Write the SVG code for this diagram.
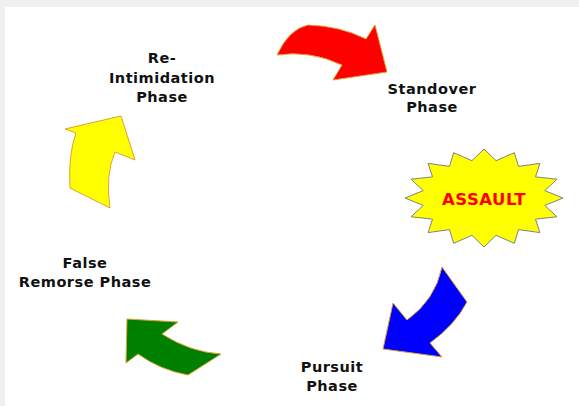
<svg xmlns="http://www.w3.org/2000/svg" width="579" height="406" viewBox="0 0 579 406">
<style>
.lbl{font-family:"DejaVu Sans",Verdana,sans-serif;font-weight:bold;font-size:14.5px;fill:#111;text-anchor:middle;letter-spacing:0.5px}
.arr{stroke:#e0a030;stroke-width:1;stroke-linejoin:round}
</style>
<rect x="0" y="0" width="579" height="406" fill="#ffffff"/>
<rect x="0" y="0" width="579" height="7" fill="#f0f0f0"/>
<rect x="0" y="7" width="5" height="399" fill="#f0f0f0"/>
<g id="connectors">
<path id="red-arrow" class="arr" fill="#ff0000" d="M277,55 Q289,29 308,25 Q340,26 366,39 L375,25 L387,72 L333,80 L342,65 Q310,50 277,55 Z"/>
<path id="blue-arrow" class="arr" fill="#0000ff" d="M442,267 L467,302 Q455,325 430,343 L442,357 L383,349 L393,303 L407,320 Q435,300 442,267 Z"/>
<path id="green-arrow" class="arr" fill="#008000" d="M127,319 L178,322 L162,334 Q190,352 221,354 L188,375 Q160,370 138,354 L126,363 Z"/>
<path id="yellow-arrow" class="arr" fill="#ffff00" d="M121,116 L135,160 L115,152 Q105,175 110,208 L70,188 Q68,155 76,133 L65,129 Z"/>
</g>
<g id="standover">
<text class="lbl" x="432" y="94">Standover</text>
<text class="lbl" x="432" y="112">Phase</text>
</g>
<g id="assault">
<polygon fill="#ffff00" stroke="#808080" stroke-width="1" points="563,198 544.8,205.4 557,216.8 535.5,219.1 539.9,232.6 518.5,229.6 514.3,243.3 496.1,235.3 484,247 471.9,235.3 453.7,243.3 449.5,229.6 428.1,232.6 432.5,219.1 411,216.8 423.2,205.4 405,198 423.2,190.6 411,179.2 432.5,176.9 428.1,163.4 449.5,166.4 453.7,152.7 471.9,160.7 484,149 496.1,160.7 514.3,152.7 518.5,166.4 539.9,163.4 535.5,176.9 557,179.2 544.8,190.6"/>
<text x="484" y="205" text-anchor="middle" font-family="DejaVu Sans,Verdana,sans-serif" font-weight="bold" font-size="16.5" letter-spacing="0.5" fill="#ff0000">ASSAULT</text>
</g>
<g id="pursuit">
<text class="lbl" x="332" y="372">Pursuit</text>
<text class="lbl" x="332" y="391">Phase</text>
</g>
<g id="false-remorse">
<text class="lbl" x="85" y="268">False</text>
<text class="lbl" x="85" y="287">Remorse Phase</text>
</g>
<g id="re-intimidation">
<text class="lbl" x="162" y="63">Re-</text>
<text class="lbl" x="162" y="83">Intimidation</text>
<text class="lbl" x="162" y="102">Phase</text>
</g>
</svg>
